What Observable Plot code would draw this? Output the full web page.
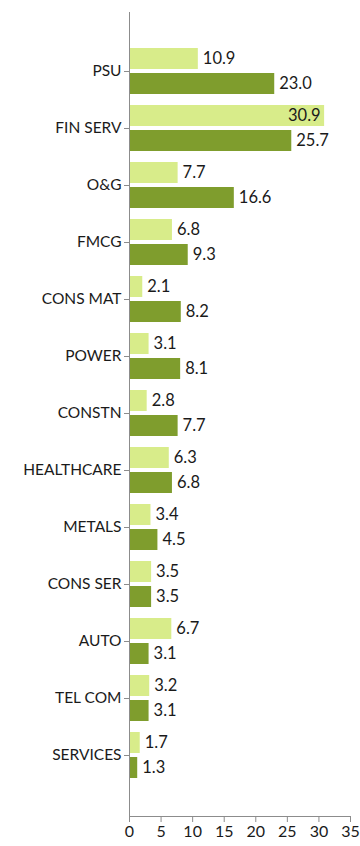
<!DOCTYPE html>
<html>
<head>
<meta charset="utf-8">
<script src="https://cdn.jsdelivr.net/npm/d3@7"></script>
<script src="https://cdn.jsdelivr.net/npm/@observablehq/plot@0.6"></script>
<style>
  html, body { margin: 0; padding: 0; background: #ffffff; }
  #chart svg { display: block; }
</style>
</head>
<body>
<div id="chart"></div>
<script>
const categories = ["PSU", "FIN SERV", "O&G", "FMCG", "CONS MAT", "POWER", "CONSTN", "HEALTHCARE", "METALS", "CONS SER", "AUTO", "TEL COM", "SERVICES"];
const seriesLight = [10.9, 30.9, 7.7, 6.8, 2.1, 3.1, 2.8, 6.3, 3.4, 3.5, 6.7, 3.2, 1.7];
const seriesDark = [23.0, 25.7, 16.6, 9.3, 8.2, 8.1, 7.7, 6.8, 4.5, 3.5, 3.1, 3.1, 1.3];
const xTicks = [0, 5, 10, 15, 20, 25, 30, 35];

const light = categories.map((c, i) => ({cat: c, value: seriesLight[i]}));
const dark = categories.map((c, i) => ({cat: c, value: seriesDark[i]}));
const inside = d => d.value > 28;
const fmt = d => d.value.toFixed(1);
const font = "Lato, 'Noto Sans', sans-serif";

const chart = Plot.plot({
  width: 360,
  height: 846,
  marginLeft: 129,
  marginRight: 10,
  marginTop: 12,
  marginBottom: 30,
  style: {fontFamily: font, background: "#ffffff"},
  x: {domain: [0, 35], ticks: xTicks},
  y: {domain: categories, padding: 0.2, insetTop: 21.5, insetBottom: 23.5},
  marks: [
    Plot.barX(light, {x: "value", y: "cat", fill: "#d8ec8a", insetBottom: 25}),
    Plot.barX(dark, {x: "value", y: "cat", fill: "#7f9d2d", insetTop: 25}),
    Plot.text(light.filter(d => !inside(d)), {x: "value", y: "cat", text: fmt, dy: -12.5, dx: 4.5, textAnchor: "start", fontSize: 16.5, fill: "#1a1a1a"}),
    Plot.text(light.filter(inside), {x: "value", y: "cat", text: fmt, dy: -12.5, dx: -4, textAnchor: "end", fontSize: 16.5, fill: "#1a1a1a"}),
    Plot.text(dark, {x: "value", y: "cat", text: fmt, dy: 12.5, dx: 4.5, textAnchor: "start", fontSize: 16.5, fill: "#1a1a1a"}),
    Plot.ruleX([0], {stroke: "#8c8c8c", insetBottom: -6}),
    Plot.frame({anchor: "bottom", stroke: "#8c8c8c"}),
    Plot.axisX({ticks: xTicks, tickSize: 6, tickPadding: 3, stroke: "#8c8c8c", fill: "#1a1a1a", fontSize: 16, label: null, tickFormat: d => String(d)}),
    Plot.axisY({tickSize: 5, tickPadding: 3, stroke: "#8c8c8c", fill: "#1a1a1a", fontSize: 15.5, label: null})
  ]
});
document.getElementById("chart").appendChild(chart);
</script>
</body>
</html>
